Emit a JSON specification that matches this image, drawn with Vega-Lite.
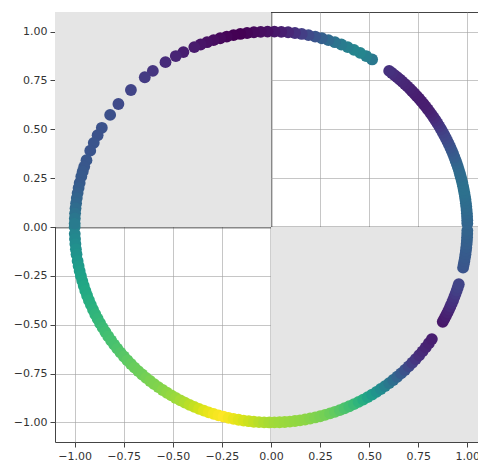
{
  "$schema": "https://vega.github.io/schema/vega-lite/v6.json",
  "width": 432,
  "height": 430,
  "autosize": "none",
  "padding": {"left": 55, "top": 12, "right": 0, "bottom": 20},
  "background": "white",
  "config": {
    "view": {"stroke": "#444", "strokeWidth": 1},
    "axis": {
      "grid": true,
      "gridColor": {"condition": {"test": "datum.value === 0", "value": "#383838"}, "value": "#a0a0a0"},
      "gridWidth": {"condition": {"test": "datum.value === 0", "value": 1.8}, "value": 1},
      "gridOpacity": 0.6,
      "domain": false,
      "tickColor": "#444",
      "tickSize": 5,
      "labelPadding": 3,
      "labelFont": "DejaVu Sans",
      "labelFontSize": 11,
      "labelColor": "#333",
      "title": null,
      "zindex": 1
    }
  },
  "datasets": {
    "quads": [
      {"x": -1.1, "x2": 0, "y": 0, "y2": 1.1},
      {"x": 0, "x2": 1.1, "y": -1.1, "y2": 0}
    ],
    "pts": [
      {"x": -1.0, "y": 0.0, "c": 0.43},
      {"x": -0.9994, "y": -0.0349, "c": 0.45},
      {"x": -0.9981, "y": -0.0610, "c": 0.465},
      {"x": -0.9962, "y": -0.0872, "c": 0.48},
      {"x": -0.9936, "y": -0.1132, "c": 0.495},
      {"x": -0.9903, "y": -0.1392, "c": 0.51},
      {"x": -0.9848, "y": -0.1736, "c": 0.53},
      {"x": -0.9799, "y": -0.1994, "c": 0.545},
      {"x": -0.9744, "y": -0.2250, "c": 0.56},
      {"x": -0.9681, "y": -0.2504, "c": 0.57},
      {"x": -0.9613, "y": -0.2756, "c": 0.58},
      {"x": -0.9537, "y": -0.3007, "c": 0.59},
      {"x": -0.9455, "y": -0.3256, "c": 0.60},
      {"x": -0.9367, "y": -0.3502, "c": 0.61},
      {"x": -0.9272, "y": -0.3746, "c": 0.62},
      {"x": -0.9171, "y": -0.3987, "c": 0.63},
      {"x": -0.9063, "y": -0.4226, "c": 0.64},
      {"x": -0.8949, "y": -0.4462, "c": 0.65},
      {"x": -0.8829, "y": -0.4695, "c": 0.66},
      {"x": -0.8704, "y": -0.4924, "c": 0.67},
      {"x": -0.8572, "y": -0.5150, "c": 0.68},
      {"x": -0.8434, "y": -0.5373, "c": 0.69},
      {"x": -0.8290, "y": -0.5592, "c": 0.70},
      {"x": -0.8141, "y": -0.5807, "c": 0.705},
      {"x": -0.7986, "y": -0.6018, "c": 0.71},
      {"x": -0.7826, "y": -0.6225, "c": 0.72},
      {"x": -0.7660, "y": -0.6428, "c": 0.73},
      {"x": -0.7490, "y": -0.6626, "c": 0.74},
      {"x": -0.7314, "y": -0.6820, "c": 0.75},
      {"x": -0.7133, "y": -0.7009, "c": 0.76},
      {"x": -0.6947, "y": -0.7193, "c": 0.77},
      {"x": -0.6756, "y": -0.7373, "c": 0.775},
      {"x": -0.6561, "y": -0.7547, "c": 0.78},
      {"x": -0.6361, "y": -0.7716, "c": 0.79},
      {"x": -0.6157, "y": -0.7880, "c": 0.80},
      {"x": -0.5948, "y": -0.8039, "c": 0.805},
      {"x": -0.5736, "y": -0.8192, "c": 0.81},
      {"x": -0.5519, "y": -0.8339, "c": 0.82},
      {"x": -0.5299, "y": -0.8480, "c": 0.83},
      {"x": -0.5075, "y": -0.8616, "c": 0.84},
      {"x": -0.4848, "y": -0.8746, "c": 0.85},
      {"x": -0.4617, "y": -0.8870, "c": 0.865},
      {"x": -0.4384, "y": -0.8988, "c": 0.88},
      {"x": -0.4147, "y": -0.9100, "c": 0.895},
      {"x": -0.3907, "y": -0.9205, "c": 0.91},
      {"x": -0.3665, "y": -0.9304, "c": 0.93},
      {"x": -0.3420, "y": -0.9397, "c": 0.95},
      {"x": -0.3173, "y": -0.9483, "c": 0.965},
      {"x": -0.2924, "y": -0.9563, "c": 0.98},
      {"x": -0.2672, "y": -0.9636, "c": 0.99},
      {"x": -0.2419, "y": -0.9703, "c": 1.00},
      {"x": -0.2164, "y": -0.9763, "c": 0.985},
      {"x": -0.1908, "y": -0.9816, "c": 0.97},
      {"x": -0.1650, "y": -0.9863, "c": 0.955},
      {"x": -0.1392, "y": -0.9903, "c": 0.94},
      {"x": -0.1132, "y": -0.9936, "c": 0.925},
      {"x": -0.0872, "y": -0.9962, "c": 0.91},
      {"x": -0.0610, "y": -0.9981, "c": 0.895},
      {"x": -0.0349, "y": -0.9994, "c": 0.88},
      {"x": -0.0087, "y": -1.0, "c": 0.87},
      {"x": 0.0175, "y": -0.9998, "c": 0.86},
      {"x": 0.0436, "y": -0.9990, "c": 0.855},
      {"x": 0.0698, "y": -0.9976, "c": 0.85},
      {"x": 0.0958, "y": -0.9954, "c": 0.845},
      {"x": 0.1219, "y": -0.9925, "c": 0.84},
      {"x": 0.1478, "y": -0.9890, "c": 0.835},
      {"x": 0.1736, "y": -0.9848, "c": 0.83},
      {"x": 0.1994, "y": -0.9799, "c": 0.82},
      {"x": 0.2250, "y": -0.9744, "c": 0.81},
      {"x": 0.2504, "y": -0.9681, "c": 0.80},
      {"x": 0.2756, "y": -0.9613, "c": 0.79},
      {"x": 0.3007, "y": -0.9537, "c": 0.775},
      {"x": 0.3256, "y": -0.9455, "c": 0.76},
      {"x": 0.3502, "y": -0.9367, "c": 0.74},
      {"x": 0.3746, "y": -0.9272, "c": 0.72},
      {"x": 0.3987, "y": -0.9171, "c": 0.70},
      {"x": 0.4226, "y": -0.9063, "c": 0.68},
      {"x": 0.4462, "y": -0.8949, "c": 0.65},
      {"x": 0.4695, "y": -0.8829, "c": 0.62},
      {"x": 0.4924, "y": -0.8704, "c": 0.585},
      {"x": 0.5150, "y": -0.8572, "c": 0.55},
      {"x": 0.5373, "y": -0.8434, "c": 0.515},
      {"x": 0.5592, "y": -0.8290, "c": 0.48},
      {"x": 0.5807, "y": -0.8141, "c": 0.44},
      {"x": 0.6018, "y": -0.7986, "c": 0.40},
      {"x": 0.6225, "y": -0.7826, "c": 0.36},
      {"x": 0.6428, "y": -0.7660, "c": 0.32},
      {"x": 0.6626, "y": -0.7490, "c": 0.285},
      {"x": 0.6820, "y": -0.7314, "c": 0.25},
      {"x": 0.7009, "y": -0.7133, "c": 0.215},
      {"x": 0.7193, "y": -0.6947, "c": 0.18},
      {"x": 0.7373, "y": -0.6756, "c": 0.155},
      {"x": 0.7547, "y": -0.6561, "c": 0.13},
      {"x": 0.7716, "y": -0.6361, "c": 0.115},
      {"x": 0.7880, "y": -0.6157, "c": 0.10},
      {"x": 0.8039, "y": -0.5948, "c": 0.09},
      {"x": 0.8192, "y": -0.5736, "c": 0.08},
      {"x": 0.8746, "y": -0.4848, "c": 0.06},
      {"x": 0.8829, "y": -0.4695, "c": 0.07},
      {"x": 0.8910, "y": -0.4540, "c": 0.08},
      {"x": 0.8988, "y": -0.4384, "c": 0.09},
      {"x": 0.9063, "y": -0.4226, "c": 0.10},
      {"x": 0.9135, "y": -0.4067, "c": 0.115},
      {"x": 0.9205, "y": -0.3907, "c": 0.13},
      {"x": 0.9272, "y": -0.3746, "c": 0.14},
      {"x": 0.9336, "y": -0.3584, "c": 0.15},
      {"x": 0.9397, "y": -0.3420, "c": 0.165},
      {"x": 0.9455, "y": -0.3256, "c": 0.18},
      {"x": 0.9511, "y": -0.3090, "c": 0.19},
      {"x": 0.9563, "y": -0.2924, "c": 0.20},
      {"x": 0.9781, "y": -0.2079, "c": 0.26},
      {"x": 0.9816, "y": -0.1908, "c": 0.265},
      {"x": 0.9848, "y": -0.1736, "c": 0.27},
      {"x": 0.9877, "y": -0.1564, "c": 0.275},
      {"x": 0.9903, "y": -0.1392, "c": 0.28},
      {"x": 0.9925, "y": -0.1219, "c": 0.285},
      {"x": 0.9945, "y": -0.1045, "c": 0.29},
      {"x": 0.9962, "y": -0.0872, "c": 0.295},
      {"x": 0.9976, "y": -0.0698, "c": 0.30},
      {"x": 0.9986, "y": -0.0523, "c": 0.305},
      {"x": 0.9994, "y": -0.0349, "c": 0.31},
      {"x": 0.9998, "y": -0.0175, "c": 0.315},
      {"x": 0.9998, "y": 0.0175, "c": 0.32},
      {"x": 0.9994, "y": 0.0349, "c": 0.325},
      {"x": 0.9986, "y": 0.0523, "c": 0.33},
      {"x": 0.9976, "y": 0.0698, "c": 0.335},
      {"x": 0.9962, "y": 0.0872, "c": 0.34},
      {"x": 0.9945, "y": 0.1045, "c": 0.345},
      {"x": 0.9925, "y": 0.1219, "c": 0.35},
      {"x": 0.9903, "y": 0.1392, "c": 0.355},
      {"x": 0.9877, "y": 0.1564, "c": 0.36},
      {"x": 0.9848, "y": 0.1736, "c": 0.365},
      {"x": 0.9816, "y": 0.1908, "c": 0.37},
      {"x": 0.9781, "y": 0.2079, "c": 0.37},
      {"x": 0.9744, "y": 0.2250, "c": 0.37},
      {"x": 0.9703, "y": 0.2419, "c": 0.365},
      {"x": 0.9659, "y": 0.2588, "c": 0.36},
      {"x": 0.9613, "y": 0.2756, "c": 0.355},
      {"x": 0.9563, "y": 0.2924, "c": 0.35},
      {"x": 0.9511, "y": 0.3090, "c": 0.34},
      {"x": 0.9455, "y": 0.3256, "c": 0.33},
      {"x": 0.9397, "y": 0.3420, "c": 0.315},
      {"x": 0.9336, "y": 0.3584, "c": 0.30},
      {"x": 0.9272, "y": 0.3746, "c": 0.29},
      {"x": 0.9205, "y": 0.3907, "c": 0.28},
      {"x": 0.9135, "y": 0.4067, "c": 0.265},
      {"x": 0.9063, "y": 0.4226, "c": 0.25},
      {"x": 0.8988, "y": 0.4384, "c": 0.235},
      {"x": 0.8910, "y": 0.4540, "c": 0.22},
      {"x": 0.8829, "y": 0.4695, "c": 0.21},
      {"x": 0.8746, "y": 0.4848, "c": 0.20},
      {"x": 0.8660, "y": 0.5000, "c": 0.185},
      {"x": 0.8572, "y": 0.5150, "c": 0.17},
      {"x": 0.8480, "y": 0.5299, "c": 0.155},
      {"x": 0.8387, "y": 0.5446, "c": 0.14},
      {"x": 0.8290, "y": 0.5592, "c": 0.125},
      {"x": 0.8192, "y": 0.5736, "c": 0.11},
      {"x": 0.8090, "y": 0.5878, "c": 0.10},
      {"x": 0.7986, "y": 0.6018, "c": 0.09},
      {"x": 0.7880, "y": 0.6157, "c": 0.085},
      {"x": 0.7771, "y": 0.6293, "c": 0.08},
      {"x": 0.7660, "y": 0.6428, "c": 0.08},
      {"x": 0.7547, "y": 0.6561, "c": 0.08},
      {"x": 0.7431, "y": 0.6691, "c": 0.08},
      {"x": 0.7314, "y": 0.6820, "c": 0.08},
      {"x": 0.7193, "y": 0.6947, "c": 0.085},
      {"x": 0.7071, "y": 0.7071, "c": 0.09},
      {"x": 0.6947, "y": 0.7193, "c": 0.095},
      {"x": 0.6820, "y": 0.7314, "c": 0.10},
      {"x": 0.6691, "y": 0.7431, "c": 0.105},
      {"x": 0.6561, "y": 0.7547, "c": 0.11},
      {"x": 0.6428, "y": 0.7660, "c": 0.115},
      {"x": 0.6293, "y": 0.7771, "c": 0.12},
      {"x": 0.6157, "y": 0.7880, "c": 0.13},
      {"x": 0.6018, "y": 0.7986, "c": 0.14},
      {"x": 0.5150, "y": 0.8572, "c": 0.40},
      {"x": 0.4848, "y": 0.8746, "c": 0.43},
      {"x": 0.4540, "y": 0.8910, "c": 0.45},
      {"x": 0.4226, "y": 0.9063, "c": 0.45},
      {"x": 0.3907, "y": 0.9205, "c": 0.43},
      {"x": 0.3584, "y": 0.9336, "c": 0.41},
      {"x": 0.3256, "y": 0.9455, "c": 0.38},
      {"x": 0.2924, "y": 0.9563, "c": 0.34},
      {"x": 0.2588, "y": 0.9659, "c": 0.30},
      {"x": 0.2250, "y": 0.9744, "c": 0.26},
      {"x": 0.1908, "y": 0.9816, "c": 0.22},
      {"x": 0.1564, "y": 0.9877, "c": 0.18},
      {"x": 0.1219, "y": 0.9925, "c": 0.14},
      {"x": 0.0872, "y": 0.9962, "c": 0.11},
      {"x": 0.0523, "y": 0.9986, "c": 0.08},
      {"x": 0.0175, "y": 0.9998, "c": 0.06},
      {"x": -0.0175, "y": 0.9998, "c": 0.04},
      {"x": -0.0523, "y": 0.9986, "c": 0.03},
      {"x": -0.0872, "y": 0.9962, "c": 0.02},
      {"x": -0.1219, "y": 0.9925, "c": 0.01},
      {"x": -0.1564, "y": 0.9877, "c": 0.00},
      {"x": -0.1908, "y": 0.9816, "c": 0.00},
      {"x": -0.2250, "y": 0.9744, "c": 0.01},
      {"x": -0.2588, "y": 0.9659, "c": 0.02},
      {"x": -0.2924, "y": 0.9563, "c": 0.03},
      {"x": -0.3256, "y": 0.9455, "c": 0.04},
      {"x": -0.3584, "y": 0.9336, "c": 0.05},
      {"x": -0.3907, "y": 0.9205, "c": 0.07},
      {"x": -0.4462, "y": 0.8949, "c": 0.08},
      {"x": -0.4848, "y": 0.8746, "c": 0.10},
      {"x": -0.5373, "y": 0.8434, "c": 0.12},
      {"x": -0.6018, "y": 0.7986, "c": 0.15},
      {"x": -0.6428, "y": 0.7660, "c": 0.17},
      {"x": -0.7133, "y": 0.7009, "c": 0.20},
      {"x": -0.7771, "y": 0.6293, "c": 0.22},
      {"x": -0.8192, "y": 0.5736, "c": 0.24},
      {"x": -0.8616, "y": 0.5075, "c": 0.25},
      {"x": -0.8829, "y": 0.4695, "c": 0.25},
      {"x": -0.9026, "y": 0.4305, "c": 0.26},
      {"x": -0.9205, "y": 0.3907, "c": 0.26},
      {"x": -0.9397, "y": 0.3420, "c": 0.27},
      {"x": -0.9511, "y": 0.3090, "c": 0.27},
      {"x": -0.9588, "y": 0.2840, "c": 0.275},
      {"x": -0.9659, "y": 0.2588, "c": 0.28},
      {"x": -0.9744, "y": 0.2250, "c": 0.28},
      {"x": -0.9799, "y": 0.1994, "c": 0.29},
      {"x": -0.9848, "y": 0.1736, "c": 0.30},
      {"x": -0.9890, "y": 0.1478, "c": 0.315},
      {"x": -0.9925, "y": 0.1219, "c": 0.33},
      {"x": -0.9954, "y": 0.0958, "c": 0.35},
      {"x": -0.9976, "y": 0.0698, "c": 0.37},
      {"x": -0.9990, "y": 0.0436, "c": 0.39},
      {"x": -0.9998, "y": 0.0175, "c": 0.41}
    ]
  },
  "encoding": {
    "x": {
      "field": "x", "type": "quantitative",
      "scale": {"domain": [-1.1, 1.1], "nice": false, "zero": false},
      "axis": {"values": [-1, -0.75, -0.5, -0.25, 0, 0.25, 0.5, 0.75, 1], "format": ".2f"}
    },
    "y": {
      "field": "y", "type": "quantitative",
      "scale": {"domain": [-1.1, 1.1], "nice": false, "zero": false},
      "axis": {"values": [-1, -0.75, -0.5, -0.25, 0, 0.25, 0.5, 0.75, 1], "format": ".2f"}
    }
  },
  "layer": [
    {
      "data": {"name": "quads"},
      "mark": {"type": "rect", "color": "#e5e5e5"},
      "encoding": {"x2": {"field": "x2"}, "y2": {"field": "y2"}}
    },
    {
      "data": {"name": "pts"},
      "mark": {"type": "circle", "size": 140, "opacity": 1},
      "encoding": {
        "color": {"field": "c", "type": "quantitative", "scale": {"scheme": "viridis", "domain": [0, 1]}, "legend": null}
      }
    }
  ]
}
